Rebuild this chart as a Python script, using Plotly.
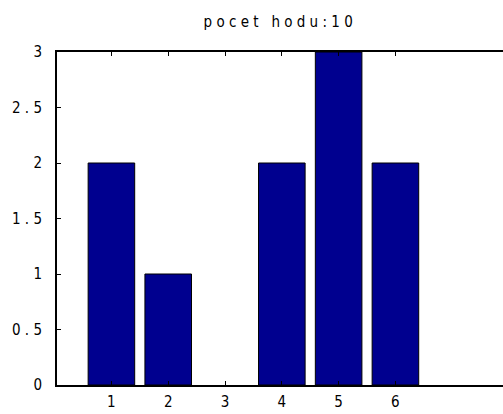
import plotly.graph_objects as go

# histogram of dice throws
faces = [1, 2, 3, 4, 5, 6]
counts = [2, 1, 0, 2, 3, 2]
y_ticks = [0, 0.5, 1, 1.5, 2, 2.5, 3]
y_labels = ["0", "0 . 5", "1", "1 . 5", "2", "2 . 5", "3"]
x_labels = ["1", "2", "3", "4", "5", "6"]
title_text = "p o c e t   h o d u : 1 0"

FONT = "DejaVu Sans Condensed, Liberation Sans Narrow, sans-serif"

# empty bins get no outline so nothing is drawn for them
edge_widths = [1 if c > 0 else 0 for c in counts]

fig = go.Figure(
    go.Bar(
        x=faces,
        y=counts,
        width=0.82,
        marker=dict(color="rgb(0,0,143)", line=dict(color="black", width=edge_widths)),
    )
)

fig.update_layout(
    width=503,
    height=414,
    margin=dict(l=57, r=0, t=52, b=28.5),
    paper_bgcolor="white",
    plot_bgcolor="white",
    showlegend=False,
    font=dict(family=FONT, size=15, color="black"),
    title=dict(
        text=title_text,
        x=0.553,
        xanchor="center",
        y=1 - 22 / 414,
        yanchor="middle",
        font=dict(family=FONT, size=15, color="black"),
    ),
)

fig.update_xaxes(
    range=[0.042, 7.894],
    tickmode="array",
    tickvals=faces,
    ticktext=x_labels,
    ticks="inside",
    ticklen=4,
    tickwidth=1,
    tickcolor="black",
    showline=True,
    linecolor="black",
    linewidth=2,
    mirror="ticks",
    showgrid=False,
    zeroline=False,
    ticklabelstandoff=2,
)

fig.update_yaxes(
    range=[0, 3],
    tickmode="array",
    tickvals=y_ticks,
    ticktext=y_labels,
    ticks="inside",
    ticklen=4,
    tickwidth=1,
    tickcolor="black",
    showline=True,
    linecolor="black",
    linewidth=2,
    mirror=False,
    showgrid=False,
    zeroline=False,
    ticklabelstandoff=10,
)

fig.write_html("out.html")
